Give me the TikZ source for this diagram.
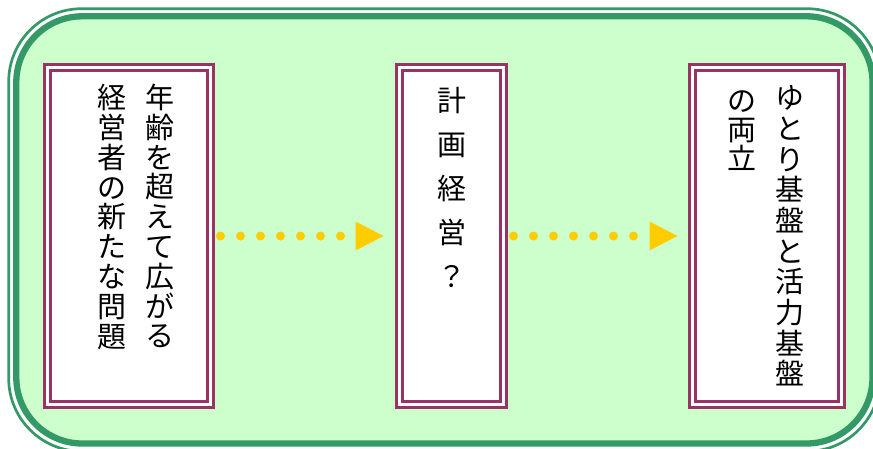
\documentclass[tikz,border=0pt]{standalone}
\usepackage{fontspec}
\newfontfamily\jp{Noto Sans CJK JP}
\definecolor{frameg}{HTML}{339966}
\definecolor{bgg}{HTML}{CCFFCC}
\definecolor{plum}{HTML}{993366}
\definecolor{gold}{HTML}{FFCC00}
\tikzset{
  boxst/.style={draw=plum, double=white, double distance=3pt, line width=3pt,
    fill=white, inner sep=0pt, minimum height=337pt},
  colst/.style={inner sep=0pt, align=center, font=\jp\fontsize{29}{#1}\selectfont},
  dotst/.style={draw=gold, line width=9pt, line cap=round, dash pattern=on 0pt off 20pt},
  tipst/.style={fill=gold}
}
\begin{document}
\begin{tikzpicture}[x=1pt,y=-1pt]
\useasboundingbox (0,0) rectangle (873,448);
% outer frame
\draw[frameg, line width=2.7pt, rounded corners=73pt] (8.7,8.7) rectangle (880,451.3);
\draw[frameg, fill=bgg, line width=6.3pt, rounded corners=66pt] (16.3,16.3) rectangle (872.5,443.5);
% boxes
\node[boxst, minimum width=163pt] (b1) at (129,236) {};
\node[boxst, minimum width=104pt] (b2) at (451.5,236) {};
\node[boxst, minimum width=148.5pt] (b3) at (766.75,236) {};
% texts
\node[colst=29.8] (t1a) at (160,216) {年\\齢\\を\\超\\え\\て\\広\\が\\る};
\node[colst=29.8] (t1b) at (112,217) {経\\営\\者\\の\\新\\た\\な\\問\\題};
\node[colst=44] (t2) at (452,187) {計\\画\\経\\営\\？};
\node[colst=30.7] (t3a) at (790,236) {ゆ\\と\\り\\基\\盤\\と\\活\\力\\基\\盤};
\node[colst=29] (t3b) at (742,131) {の\\両\\立};
% connectors
\draw[dotst, shorten <=8.5pt, shorten >=38pt] (b1.east) -- (b2.west);
\fill[tipst] ([xshift=-14.5pt]b2.west) -- ++(-28,14.5) -- ++(0,-29) -- cycle;
\draw[dotst, shorten <=8.5pt, shorten >=37.5pt] (b2.east) -- (b3.west);
\fill[tipst] ([xshift=-13.5pt]b3.west) -- ++(-28,14.5) -- ++(0,-29) -- cycle;
\end{tikzpicture}
\end{document}
